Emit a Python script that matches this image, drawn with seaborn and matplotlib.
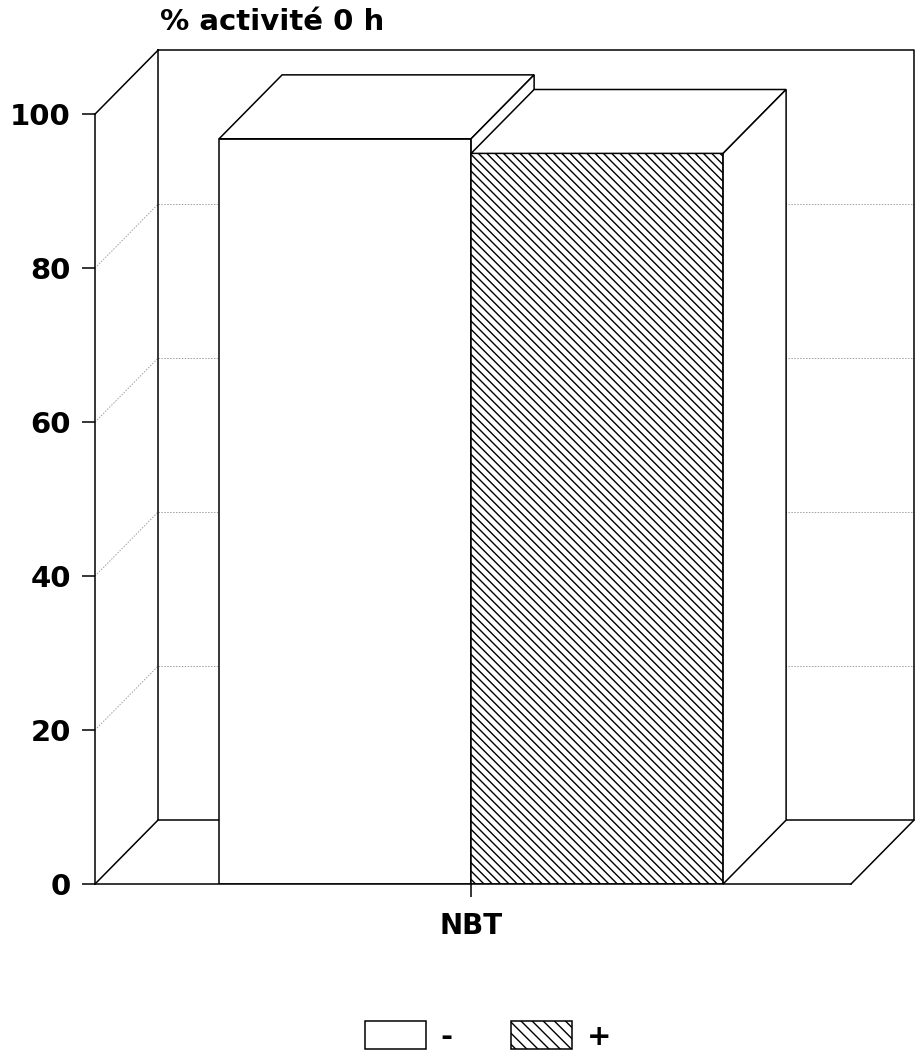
import numpy as np
import pandas as pd
import matplotlib
matplotlib.use("Agg")
import matplotlib.pyplot as plt
import seaborn as sns
from matplotlib.patches import Polygon, Patch

# ---- data ----
categories = ["NBT"]
treatments = ["-", "+"]
values = [96.8, 94.9]
yticks = [0, 20, 40, 60, 80, 100]
title = "% activité 0 h"

# ---- style / geometry constants ----
DX, DY = 0.10, 8.3          # depth offset of the pseudo-3D box (data units)
X_LEFT, X_RIGHT = -0.597, 0.603
LW = 1.1

sns.set_theme(style="white")
plt.rcParams["font.family"] = ["DejaVu Sans"]
plt.rcParams["font.weight"] = "bold"
plt.rcParams["text.color"] = "black"
plt.rcParams["hatch.linewidth"] = 1.0
plt.rcParams["hatch.color"] = "black"

df = pd.DataFrame({"cat": categories * len(treatments),
                   "trait": treatments,
                   "val": values})

fig = plt.figure(figsize=(9.21, 10.56), dpi=100)
ax = fig.add_axes([95 / 921, 1 - 884 / 1056, (918 - 95) / 921, (884 - 51) / 1056])

sns.barplot(data=df, x="cat", y="val", hue="trait", hue_order=treatments,
            palette={"-": "white", "+": "white"}, edgecolor="black",
            linewidth=LW, width=0.8, saturation=1, errorbar=None,
            legend=False, ax=ax)

bars = list(ax.patches)
hatches = ["", "\\\\\\\\"]
for i, (p, hz) in enumerate(zip(bars, hatches)):
    z = 3 + i
    p.set_zorder(z)
    p.set_hatch(hz)
    x, w, h = p.get_x(), p.get_width(), p.get_height()
    top = Polygon([(x, h), (x + DX, h + DY), (x + w + DX, h + DY), (x + w, h)],
                  closed=True, facecolor="white", edgecolor="black", lw=LW,
                  zorder=z, clip_on=False)
    side = Polygon([(x + w, 0), (x + w, h), (x + w + DX, h + DY), (x + w + DX, DY)],
                   closed=True, facecolor="white", edgecolor="black", lw=LW,
                   zorder=z, clip_on=False)
    ax.add_patch(top)
    ax.add_patch(side)

# back wall & floor & left wall
grid_kw = dict(color="#a0a0a0", lw=0.7, ls=(0, (1.5, 1.5)), zorder=1, clip_on=False)
for v in yticks[1:-1]:
    ax.plot([X_LEFT + DX, X_RIGHT + DX], [v + DY, v + DY], **grid_kw)
    ax.plot([X_LEFT, X_LEFT + DX], [v, v + DY], **grid_kw)
edge_kw = dict(color="black", lw=LW, zorder=1.5, solid_capstyle="projecting",
               clip_on=False)
top_v = yticks[-1]
ax.plot([X_LEFT + DX, X_RIGHT + DX, X_RIGHT + DX, X_LEFT + DX, X_LEFT + DX],
        [top_v + DY, top_v + DY, DY, DY, top_v + DY], **edge_kw)
ax.plot([X_LEFT, X_LEFT + DX], [top_v, top_v + DY], **edge_kw)
ax.plot([X_LEFT, X_LEFT + DX], [0, DY], **edge_kw)
ax.plot([X_RIGHT, X_RIGHT + DX], [0, DY], **edge_kw)

ax.set_xlim(X_LEFT, X_LEFT + 823 / 630)
ax.set_ylim(0, 108.2)
ax.set_yticks(yticks)
ax.set_xlabel("")
ax.set_ylabel("")
for s in ["top", "right"]:
    ax.spines[s].set_visible(False)
for s in ["left", "bottom"]:
    ax.spines[s].set_color("black")
    ax.spines[s].set_linewidth(LW)
    ax.spines[s].set_zorder(6)
ax.spines["left"].set_bounds(0, top_v)
ax.spines["bottom"].set_bounds(X_LEFT, X_RIGHT)
ax.tick_params(axis="y", length=9.5, width=LW, pad=8, labelsize=21,
               colors="black", left=True)
ax.tick_params(axis="x", length=9.5, width=LW, pad=11, labelsize=20,
               colors="black", bottom=True)
for lab in ax.get_xticklabels() + ax.get_yticklabels():
    lab.set_fontweight("bold")

fig.text(160 / 921, 1 - 22 / 1056, title, ha="left", va="center",
         fontsize=21, fontweight="bold", color="black")

handles = [Patch(facecolor="white", edgecolor="black", lw=LW, label=treatments[0]),
           Patch(facecolor="white", edgecolor="black", lw=LW, hatch="\\\\\\",
                 label=treatments[1])]
leg = fig.legend(handles=handles, loc="center",
                 bbox_to_anchor=(488 / 921, 1 - 1036 / 1056),
                 ncol=2, frameon=False, handlelength=2.1, handleheight=1.1,
                 handletextpad=0.5, columnspacing=2.0, fontsize=21)
for t in leg.get_texts():
    t.set_color("black")

fig.savefig("out.png", dpi=100, facecolor="white")
